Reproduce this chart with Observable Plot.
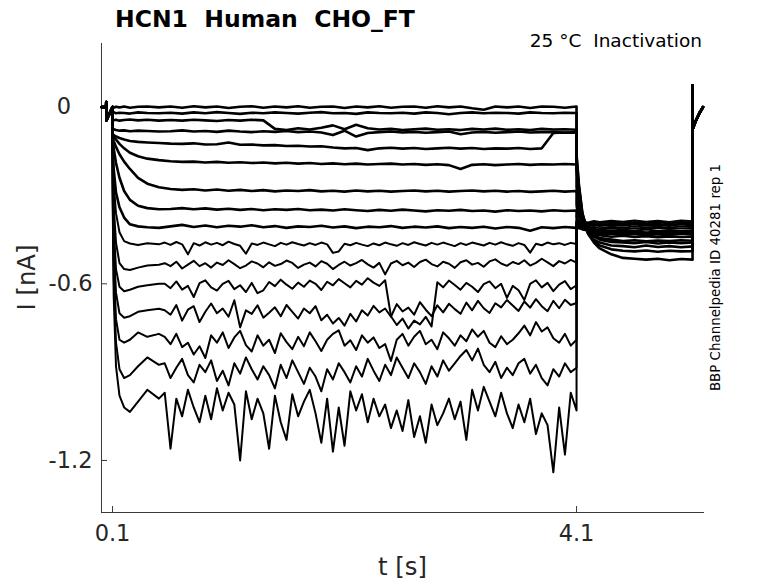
<!DOCTYPE html>
<html><head><meta charset="utf-8">
<script src="https://cdn.jsdelivr.net/npm/d3@7"></script>
<script src="https://cdn.jsdelivr.net/npm/@observablehq/plot@0.6"></script>
<style>
body{margin:0;background:#fff}
#chart{width:778px;height:583px}
</style></head><body><div id="chart"></div>
<script>
const title = "HCN1  Human  CHO_FT";
const subtitle = "25 °C  Inactivation";
const sideNote = "BBP Channelpedia ID 40281 rep 1";
const xLabel = "t [s]";
const yLabel = "I [nA]";
const xTicks = [0.1, 4.1];
const xTickLabels = ["0.1", "4.1"];
const yTicks = [0, -0.6, -1.2];
const yTickLabels = ["0\u2008\u2007", "-0.6", "-1.2"];
const xDomain = [0.005, 5.203];
const yDomain = [-1.3766, 0.216];

// time grids (s)
const tHold = [0.005, 0.045, 0.046, 0.047, 0.1];
const iHold = [0, 0, 0.017, -0.045, 0];
const tEarly = [0.1, 0.102, 0.11, 0.13, 0.16, 0.2, 0.25, 0.32, 0.4, 0.5];
const tCoarse = [0.6,0.7,0.8,0.9,1.0,1.1,1.2,1.3,1.4,1.5,1.6,1.7,1.8,1.9,2.0,2.1,2.2,2.3,2.4,2.5,2.6,2.7,2.8,2.9,3.0,3.1,3.2,3.3,3.4,3.5,3.6,3.7,3.8,3.9,4.0,4.1];
const tFine = [0.55,0.6,0.65,0.7,0.75,0.8,0.85,0.9,0.95,1.0,
  1.05,1.1,1.15,1.2,1.25,1.3,1.35,1.4,1.45,1.5,
  1.55,1.6,1.65,1.7,1.75,1.8,1.85,1.9,1.95,2.0,
  2.05,2.1,2.15,2.2,2.25,2.3,2.35,2.4,2.45,2.5,
  2.55,2.6,2.65,2.7,2.75,2.8,2.85,2.9,2.95,3.0,
  3.05,3.1,3.15,3.2,3.25,3.3,3.35,3.4,3.45,3.5,
  3.55,3.6,3.65,3.7,3.75,3.8,3.85,3.9,3.95,4.0,
  4.05,4.1];
const tTail = [4.1, 4.102, 4.12, 4.15, 4.2, 4.25, 4.3, 4.4, 4.5, 4.6, 4.7, 4.8, 4.9, 5.0, 5.1];
const tEnd = [5.1, 5.1005, 5.11, 5.13, 5.16, 5.19];
const iEnd = [0.074, -0.075, -0.065, -0.045, -0.02, 0.0];

// current (nA) at the start of the prepulse, one array per sweep
const earlyI = [
  [0,.002,-.002,.001,-.001,.002,-.002,.001,.002,-.001],
  [-.018,-.02,-.017,-.021,-.019,-.02,-.022,-.018,-.02,-.021],
  [-.04,-.042,-.045,-.043,-.046,-.044,-.042,-.045,-.043,-.046],
  [-.07,-.072,-.075,-.078,-.08,-.079,-.082,-.08,-.081,-.083],
  [-.09,-.092,-.095,-.1,-.105,-.11,-.115,-.118,-.12,-.122],
  [-.09,-.095,-.1,-.11,-.125,-.14,-.155,-.167,-.175,-.18],
  [-.1,-.105,-.115,-.135,-.16,-.185,-.21,-.24,-.26,-.272],
  [-.1,-.11,-.14,-.19,-.24,-.285,-.315,-.335,-.343,-.347],
  [-.1,-.13,-.21,-.29,-.34,-.375,-.398,-.405,-.408,-.41],
  [-.1,-.15,-.26,-.36,-.425,-.455,-.463,-.468,-.462,-.466],
  [-.1,-.18,-.33,-.46,-.53,-.55,-.553,-.545,-.538,-.535],
  [-.1,-.22,-.4,-.55,-.61,-.625,-.62,-.61,-.605,-.6],
  [-.1,-.25,-.46,-.63,-.7,-.715,-.71,-.695,-.69,-.685],
  [-.1,-.28,-.52,-.72,-.79,-.8,-.79,-.765,-.78,-.77],
  [-.1,-.31,-.58,-.8,-.89,-.92,-.91,-.88,-.85,-.875],
  [-.1,-.34,-.64,-.88,-.98,-1.02,-1.035,-1.0,-.96,-.99]
];

// rest of the prepulse (sweeps 1-9 on tCoarse, 10-16 on tFine)
const stepI = [
  [.002,-.002,.003,-.001,.002,-.003,.001,.003,-.002,.002,
   -.001,.003,-.002,.001,.002,-.003,.002,-.001,.003,-.002,
   .001,.002,-.002,.003,-.001,.002,-.004,-.009,.002,-.001,
   .002,-.003,.002,.001,-.002,.002],
  [-.019,-.022,-.018,-.021,-.017,-.02,-.023,-.019,-.021,-.018,
   -.02,-.022,-.019,-.017,-.021,-.02,-.023,-.018,-.02,-.021,
   -.019,-.022,-.018,-.02,-.024,-.02,-.018,-.021,-.019,-.02,
   -.022,-.018,-.02,-.021,-.019,-.02],
  [-.044,-.046,-.043,-.045,-.047,-.044,-.046,-.043,-.045,-.074,
   -.078,-.072,-.076,-.07,-.062,-.075,-.06,-.072,-.076,-.074,
   -.078,-.075,-.073,-.077,-.075,-.078,-.074,-.076,-.073,-.077,
   -.075,-.078,-.074,-.076,-.075,-.077],
  [-.082,-.079,-.083,-.081,-.084,-.08,-.083,-.085,-.082,-.084,
   -.081,-.085,-.083,-.086,-.095,-.08,-.1,-.088,-.085,-.083,
   -.086,-.084,-.087,-.085,-.083,-.092,-.086,-.084,-.087,-.085,
   -.083,-.086,-.085,-.084,-.087,-.085],
  [-.124,-.125,-.123,-.127,-.126,-.12,-.128,-.127,-.13,-.129,
   -.132,-.131,-.134,-.133,-.137,-.14,-.139,-.146,-.14,-.138,
   -.141,-.139,-.142,-.14,-.138,-.141,-.139,-.142,-.14,-.141,
   -.139,-.142,-.14,-.088,-.086,-.087],
  [-.184,-.186,-.185,-.188,-.186,-.189,-.187,-.19,-.188,-.191,
   -.189,-.192,-.19,-.193,-.191,-.194,-.192,-.195,-.193,-.192,
   -.195,-.193,-.196,-.194,-.197,-.21,-.196,-.194,-.197,-.195,
   -.193,-.196,-.194,-.195,-.193,-.195],
  [-.278,-.281,-.279,-.283,-.28,-.284,-.281,-.285,-.282,-.286,
   -.283,-.285,-.282,-.286,-.284,-.287,-.283,-.286,-.284,-.287,
   -.285,-.283,-.286,-.284,-.287,-.285,-.283,-.286,-.284,-.287,
   -.285,-.288,-.286,-.284,-.287,-.285],
  [-.346,-.343,-.347,-.344,-.348,-.345,-.349,-.346,-.35,-.347,
   -.349,-.346,-.35,-.348,-.351,-.347,-.35,-.353,-.349,-.352,
   -.348,-.351,-.354,-.35,-.352,-.349,-.353,-.351,-.355,-.35,
   -.353,-.351,-.354,-.35,-.353,-.351],
  [-.405,-.4,-.407,-.402,-.408,-.403,-.406,-.401,-.408,-.404,
   -.41,-.405,-.407,-.403,-.409,-.405,-.411,-.406,-.408,-.404,
   -.41,-.406,-.409,-.405,-.411,-.407,-.41,-.406,-.412,-.407,
   -.41,-.42,-.408,-.411,-.407,-.41],
  [-.46,-.468,-.458,-.466,-.5,-.462,-.47,-.459,-.467,-.461,
   -.469,-.457,-.465,-.471,-.498,-.463,-.468,-.46,-.466,-.472,
   -.461,-.467,-.459,-.465,-.47,-.462,-.468,-.46,-.466,-.495,
   -.49,-.464,-.469,-.461,-.467,-.472,-.463,-.469,-.46,-.466,
   -.471,-.462,-.468,-.459,-.465,-.47,-.461,-.467,-.46,-.466,
   -.472,-.462,-.468,-.46,-.465,-.47,-.461,-.467,-.459,-.466,
   -.471,-.462,-.468,-.494,-.464,-.469,-.46,-.466,-.462,-.468,
   -.461,-.465],
  [-.53,-.54,-.525,-.548,-.535,-.522,-.54,-.53,-.545,-.528,
   -.536,-.52,-.533,-.547,-.538,-.524,-.531,-.544,-.527,-.539,
   -.533,-.521,-.529,-.546,-.535,-.528,-.541,-.523,-.532,-.55,
   -.536,-.525,-.538,-.53,-.519,-.534,-.545,-.529,-.568,-.531,
   -.522,-.537,-.528,-.543,-.526,-.518,-.533,-.541,-.525,-.532,
   -.546,-.527,-.52,-.535,-.529,-.542,-.524,-.517,-.531,-.539,
   -.526,-.533,-.52,-.538,-.529,-.515,-.527,-.54,-.523,-.531,
   -.519,-.528],
  [-.6,-.615,-.592,-.62,-.607,-.645,-.598,-.588,-.612,-.623,
   -.6,-.59,-.618,-.605,-.628,-.597,-.632,-.622,-.594,-.608,
   -.586,-.603,-.617,-.596,-.61,-.589,-.6,-.621,-.593,-.605,
   -.584,-.598,-.612,-.59,-.603,-.581,-.596,-.607,-.588,-.71,
   -.74,-.718,-.752,-.725,-.738,-.712,-.745,-.595,-.612,-.589,
   -.604,-.62,-.597,-.61,-.628,-.601,-.592,-.615,-.6,-.648,
   -.607,-.622,-.655,-.6,-.588,-.612,-.597,-.625,-.603,-.591,
   -.618,-.605],
  [-.69,-.705,-.672,-.725,-.688,-.676,-.73,-.695,-.667,-.7,
   -.684,-.712,-.656,-.748,-.69,-.702,-.673,-.715,-.698,-.68,
   -.71,-.672,-.695,-.718,-.684,-.7,-.676,-.724,-.705,-.735,
   -.716,-.742,-.702,-.728,-.69,-.708,-.675,-.697,-.684,-.712,
   -.669,-.694,-.681,-.705,-.662,-.688,-.71,-.673,-.697,-.668,
   -.686,-.702,-.664,-.69,-.658,-.683,-.699,-.666,-.68,-.655,
   -.674,-.692,-.66,-.681,-.652,-.676,-.693,-.658,-.683,-.654,
   -.672,-.665],
  [-.78,-.805,-.77,-.815,-.8,-.84,-.812,-.852,-.775,-.8,
   -.765,-.818,-.782,-.76,-.808,-.83,-.775,-.81,-.79,-.835,
   -.768,-.798,-.822,-.78,-.812,-.765,-.795,-.828,-.79,-.77,
   -.758,-.81,-.792,-.825,-.775,-.8,-.782,-.818,-.805,-.862,
   -.79,-.77,-.81,-.78,-.76,-.805,-.79,-.822,-.765,-.785,
   -.81,-.775,-.795,-.755,-.78,-.76,-.8,-.815,-.778,-.805,
   -.79,-.768,-.742,-.775,-.73,-.762,-.748,-.785,-.8,-.77,
   -.81,-.79],
  [-.87,-.92,-.885,-.855,-.91,-.935,-.875,-.9,-.86,-.93,
   -.895,-.945,-.87,-.905,-.85,-.89,-.925,-.88,-.91,-.955,
   -.875,-.92,-.86,-.9,-.94,-.885,-.915,-.965,-.89,-.925,
   -.87,-.9,-.935,-.88,-.915,-.855,-.895,-.93,-.875,-.91,
   -.85,-.885,-.92,-.87,-.9,-.94,-.88,-.915,-.86,-.895,
   -.87,-.845,-.825,-.86,-.82,-.875,-.9,-.865,-.92,-.885,
   -.91,-.87,-.855,-.905,-.875,-.92,-.945,-.89,-.915,-.87,
   -.9,-.885],
  [-.97,-1.16,-.99,-1.05,-.96,-1.02,-1.07,-.98,-1.06,-.955,
   -1.03,-.97,-1.01,-1.2,-.965,-1.06,-.99,-1.04,-1.16,-.98,
   -1.07,-1.13,-.975,-1.05,-1.0,-.96,-1.04,-1.14,-.99,-1.17,
   -1.02,-1.15,-.965,-1.03,-.975,-1.07,-.99,-1.05,-1.01,-1.09,
   -1.03,-1.1,-.995,-1.12,-1.05,-1.14,-1.01,-1.08,-1.04,-.99,
   -1.06,-1.0,-1.13,-.96,-1.03,-.95,-1.0,-1.05,-.97,-1.04,
   -1.09,-1.01,-1.07,-.99,-1.11,-1.04,-1.08,-1.24,-1.02,-1.18,
   -.97,-1.03]
];

// test pulse (tail) currents on tTail
const tailI = [
  [-.16,-.17,-.26,-.36,-.43,-.46,-.48,-.5,-.512,-.515,-.518,-.515,-.52,-.516,-.518],
  [-.17,-.18,-.27,-.36,-.43,-.455,-.47,-.483,-.488,-.49,-.487,-.491,-.488,-.49,-.489],
  [-.19,-.2,-.28,-.37,-.43,-.45,-.46,-.47,-.472,-.476,-.47,-.475,-.472,-.476,-.473],
  [-.2,-.21,-.29,-.37,-.42,-.44,-.45,-.458,-.46,-.462,-.458,-.463,-.46,-.462,-.46],
  [-.21,-.22,-.3,-.37,-.415,-.435,-.445,-.45,-.455,-.452,-.456,-.453,-.455,-.452,-.454],
  [-.27,-.28,-.34,-.39,-.42,-.43,-.435,-.44,-.437,-.441,-.438,-.442,-.439,-.441,-.44],
  [-.33,-.34,-.37,-.4,-.42,-.428,-.432,-.43,-.434,-.431,-.435,-.432,-.434,-.43,-.433],
  [-.37,-.375,-.39,-.41,-.42,-.425,-.428,-.425,-.429,-.426,-.43,-.427,-.429,-.426,-.428],
  [-.39,-.395,-.405,-.415,-.42,-.422,-.424,-.421,-.425,-.422,-.426,-.423,-.425,-.422,-.424],
  [-.4,-.405,-.41,-.415,-.418,-.42,-.418,-.421,-.417,-.42,-.416,-.42,-.418,-.421,-.419],
  [-.41,-.41,-.412,-.413,-.415,-.413,-.416,-.412,-.415,-.411,-.414,-.41,-.414,-.411,-.413],
  [-.415,-.412,-.41,-.408,-.41,-.407,-.411,-.406,-.41,-.405,-.409,-.406,-.41,-.405,-.408],
  [-.4,-.4,-.405,-.402,-.405,-.401,-.404,-.4,-.403,-.399,-.403,-.4,-.404,-.399,-.402],
  [-.39,-.395,-.4,-.398,-.401,-.397,-.4,-.396,-.399,-.395,-.399,-.396,-.4,-.395,-.398],
  [-.38,-.39,-.395,-.393,-.396,-.392,-.395,-.391,-.394,-.39,-.394,-.391,-.395,-.39,-.393],
  [-.37,-.385,-.39,-.388,-.392,-.387,-.39,-.386,-.389,-.385,-.389,-.386,-.39,-.385,-.388]
];

const rows = [];
stepI.forEach((s, k) => {
  const fine = s.length === tFine.length;
  const grid = fine ? tFine : tCoarse;
  const push = (ts, vs) => ts.forEach((t, j) => rows.push({k, t, i: vs[j], fine}));
  push(tHold, iHold);
  push(tEarly, earlyI[k]);
  push(grid, s);
  push(tTail, tailI[k]);
  push(tEnd, iEnd);
});

const axisColor = "#3a3a3a";
const W = 778, H = 583, mL = 101, mR = 74, mT = 43, mB = 71;

const plot = Plot.plot({
  width: W, height: H,
  marginLeft: mL, marginRight: mR, marginTop: mT, marginBottom: mB,
  style: {fontFamily: "DejaVu Sans", background: "white", overflow: "visible"},
  x: {domain: xDomain},
  y: {domain: yDomain},
  marks: [
    Plot.ruleX([xDomain[0]], {stroke: axisColor, strokeWidth: 1}),
    Plot.ruleY([yDomain[0]], {stroke: axisColor, strokeWidth: 1}),
    Plot.ruleY(yTicks, {stroke: axisColor, insetRight: W - mL - mR - 6}),
    Plot.ruleX(xTicks, {stroke: axisColor, insetTop: H - mT - mB - 6}),
    Plot.axisX(xTicks, {tickSize: 0, tickPadding: 13, fontSize: 22.5, color: "#262626", label: null,
      tickFormat: d => xTickLabels[xTicks.indexOf(d)]}),
    Plot.axisY(yTicks, {tickSize: 0, tickPadding: 9, fontSize: 22.5, color: "#262626", label: null,
      tickFormat: d => yTickLabels[yTicks.indexOf(d)]}),
    Plot.line(rows.filter(d => !d.fine), {x: "t", y: "i", z: "k", stroke: "black", strokeWidth: 2.6}),
    Plot.line(rows.filter(d => d.fine), {x: "t", y: "i", z: "k", stroke: "black", strokeWidth: 2})
  ]
});

const svg = d3.select(plot);
svg.append("text").attr("x", 115).attr("y", 27)
  .attr("font-size", 23.5).attr("font-weight", "bold").attr("fill", "black")
  .attr("text-anchor", "start")
  .style("white-space", "pre").text(title);
svg.append("text").attr("x", 702).attr("y", 47)
  .attr("font-size", 18.5).attr("text-anchor", "end").attr("fill", "black")
  .style("white-space", "pre").text(subtitle);
svg.append("text").attr("transform", "translate(720,277.5) rotate(-90)")
  .attr("font-size", 13.4).attr("text-anchor", "middle").attr("fill", "black")
  .text(sideNote);
svg.append("text").attr("x", (mL + W - mR) / 2).attr("y", 575)
  .attr("font-size", 24.3).attr("text-anchor", "middle").attr("fill", "#262626")
  .text(xLabel);
svg.append("text").attr("transform", "translate(35,277.5) rotate(-90)")
  .attr("font-size", 24.3).attr("text-anchor", "middle").attr("fill", "#262626")
  .text(yLabel);

document.getElementById("chart").appendChild(plot);
</script></body></html>
